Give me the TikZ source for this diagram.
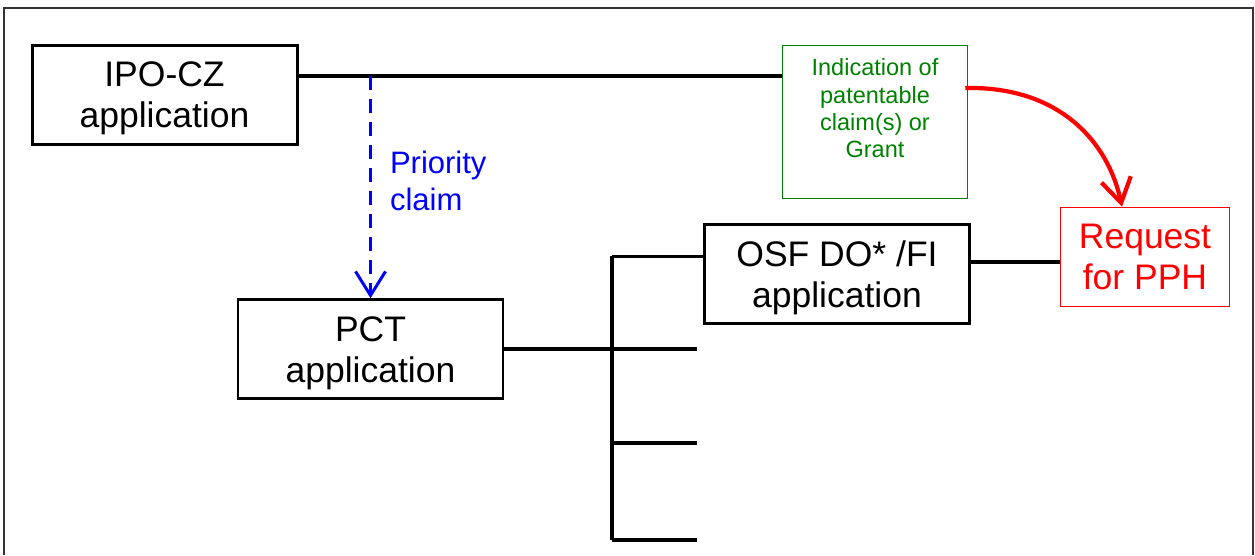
\documentclass[tikz,border=0pt]{standalone}
\usepackage{fontspec}
\setmainfont{Liberation Sans}
\usetikzlibrary{arrows.meta}
\definecolor{grantgreen}{RGB}{0,128,0}
\newcommand{\apptop}{\rule{0pt}{33pt}}

\begin{document}
\begin{tikzpicture}[x=1pt, y=-1pt,
  appbox/.style={draw, line width=3pt, align=center, inner sep=0pt,
    minimum width=265pt, minimum height=99pt,
    font=\fontsize{35.5}{41}\selectfont},
  grantbox/.style={draw=grantgreen, text=grantgreen, line width=1.5pt, align=center,
    inner sep=0pt, minimum width=185pt, minimum height=153pt,
    font=\fontsize{23.5}{27.3}\selectfont},
  pphbox/.style={draw=red, text=red, line width=1.5pt, align=center, inner sep=0pt,
    minimum width=169pt, minimum height=99pt,
    font=\fontsize{35.5}{41.7}\selectfont},
  conn/.style={line width=4.2pt},
  prio/.style={blue, line width=3pt, dash pattern=on 14pt off 9pt,
    -{Straight Barb[length=24pt, width=30pt]}},
  pphlink/.style={red, line width=4.2pt, -{Straight Barb[length=24pt, width=30pt]}}]
\useasboundingbox (0,0) rectangle (1255,555);
\path
(164.5,94.5) node[appbox] (ipo) {\apptop IPO-CZ\\application}
(875,122) node[grantbox] (indic) {Indication of\\patentable\\claim(s) or\\Grant\\\mbox{}}
(370.5,349) node[appbox, line width=2.5pt] (pct) {\apptop PCT\\application}
(837,274) node[appbox] (osf) {\apptop OSF DO* /FI\\application}
(1145,257) node[pphbox] (req) {Request\\for PPH}
(370.5,76) coordinate (top)
(612,256) coordinate (t0)
;
\foreach \y [count=\i] in {352,443,540}
  \coordinate (e\i) at (697,\y);

% frame
\draw[line width=1.5pt, black!80] (4,555) -- (4,8) -- (1253,8) -- (1253,555);

\draw[conn] (top -| ipo.east) -- (top -| indic.west) ;

\draw[prio] (top) -- node[pos=0.47, anchor=west, xshift=18pt, inner sep=0pt,
  align=left, font=\fontsize{31}{37}\selectfont] (prio-lbl) {Priority\\claim} (pct.north) ;

\draw[conn] (pct.east) -- (pct.east -| e1) ;
\draw[conn] (t0) -- (t0 |- e3) ;
\draw[line width=3pt] (t0) -- (t0 -| osf.west) ;
\draw[conn] (e2 -| t0) -- (e2) ;
\draw[conn] (e3 -| t0) -- (e3) ;

\draw[conn] ([yshift=12pt]osf.east) -- ([yshift=12pt]osf.east -| req.west) ;

\draw[pphlink]
([xshift=-3pt, yshift=34pt]indic.east) .. controls +(94,-2) and +(-14,-65) .. ([xshift=-23pt]req.north)
;

\end{tikzpicture}
\end{document}
